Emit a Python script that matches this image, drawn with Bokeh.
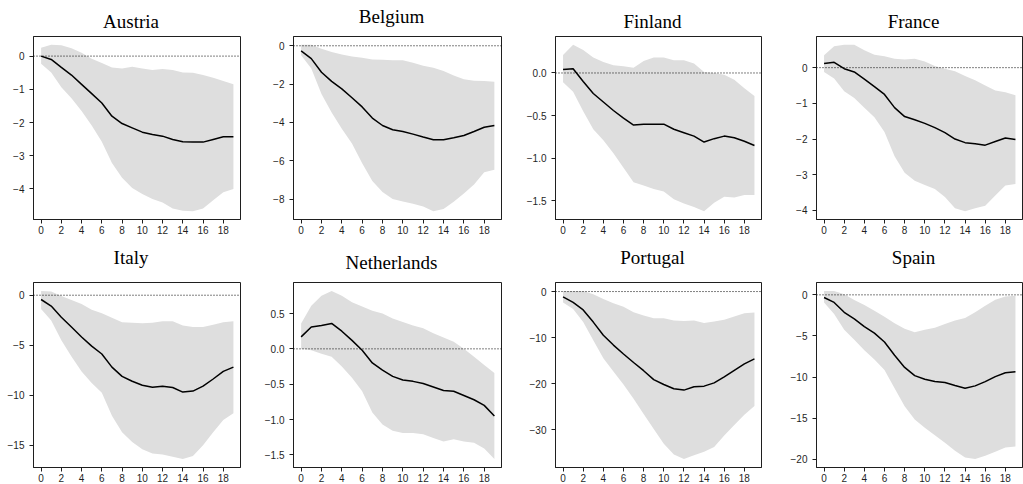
from bokeh.plotting import figure
from bokeh.layouts import column, row
from bokeh.models import Span, FixedTicker, Range1d, LinearAxis, Title
from bokeh.embed import file_html
from bokeh.resources import INLINE

# Impulse responses over a 20-period horizon: median path and error band
horizon = list(range(20))
x_ticks = [0, 2, 4, 6, 8, 10, 12, 14, 16, 18]

austria_mean = [0.0, -0.1, -0.34, -0.57, -0.85, -1.13, -1.41, -1.81, -2.03, -2.16,
                -2.29, -2.36, -2.41, -2.51, -2.58, -2.59, -2.59, -2.51, -2.43, -2.43]
austria_upper = [0.25, 0.34, 0.33, 0.24, 0.1, -0.08, -0.21, -0.34, -0.37, -0.32,
                 -0.37, -0.42, -0.39, -0.42, -0.49, -0.5, -0.57, -0.65, -0.75, -0.85]
austria_lower = [-0.23, -0.49, -0.94, -1.27, -1.65, -2.09, -2.58, -3.22, -3.66, -3.97,
                 -4.15, -4.3, -4.41, -4.59, -4.66, -4.67, -4.59, -4.34, -4.1, -4.0]

belgium_mean = [-0.27, -0.67, -1.38, -1.86, -2.25, -2.71, -3.19, -3.77, -4.16, -4.38,
                -4.47, -4.61, -4.76, -4.9, -4.9, -4.8, -4.68, -4.47, -4.25, -4.16]
belgium_upper = [0.05, 0.05, -0.15, -0.32, -0.46, -0.56, -0.63, -0.72, -0.73, -0.75,
                 -0.75, -0.89, -1.04, -1.14, -1.31, -1.55, -1.74, -1.82, -1.84, -1.88]
belgium_lower = [-0.49, -1.18, -2.51, -3.48, -4.33, -5.1, -6.13, -7.06, -7.63, -8.0,
                 -8.12, -8.24, -8.38, -8.63, -8.52, -8.14, -7.71, -7.24, -6.6, -6.47]

finland_mean = [0.04, 0.05, -0.1, -0.24, -0.34, -0.44, -0.53, -0.61, -0.6, -0.6,
                -0.6, -0.66, -0.7, -0.74, -0.81, -0.77, -0.74, -0.76, -0.8, -0.85]
finland_upper = [0.21, 0.33, 0.27, 0.18, 0.13, 0.09, 0.08, 0.06, 0.14, 0.18,
                 0.18, 0.15, 0.15, 0.11, 0.01, 0.0, -0.02, -0.08, -0.18, -0.27]
finland_lower = [-0.11, -0.22, -0.45, -0.66, -0.79, -0.94, -1.11, -1.28, -1.32, -1.36,
                 -1.39, -1.48, -1.53, -1.57, -1.62, -1.52, -1.45, -1.46, -1.43, -1.43]

france_mean = [0.12, 0.15, -0.03, -0.12, -0.32, -0.53, -0.75, -1.12, -1.37, -1.46,
               -1.56, -1.68, -1.82, -2.0, -2.1, -2.13, -2.17, -2.07, -1.97, -2.01]
france_upper = [0.35, 0.6, 0.64, 0.64, 0.49, 0.36, 0.32, 0.25, 0.23, 0.25,
                0.17, 0.05, -0.03, -0.1, -0.23, -0.35, -0.5, -0.64, -0.69, -0.77]
france_lower = [-0.12, -0.3, -0.66, -0.85, -1.12, -1.39, -1.8, -2.48, -2.94, -3.17,
                -3.29, -3.4, -3.62, -3.94, -4.02, -3.94, -3.87, -3.58, -3.3, -3.26]

italy_mean = [-0.43, -1.09, -2.2, -3.19, -4.18, -5.1, -5.89, -7.2, -8.13, -8.62,
              -9.01, -9.21, -9.11, -9.24, -9.7, -9.6, -9.11, -8.39, -7.63, -7.2]
italy_upper = [0.43, 0.36, -0.07, -0.49, -0.89, -1.45, -1.81, -2.27, -2.7, -2.76,
               -2.8, -2.76, -2.6, -2.6, -3.03, -3.19, -3.19, -2.96, -2.7, -2.6]
italy_lower = [-1.38, -2.53, -4.51, -6.15, -7.63, -8.78, -9.77, -12.07, -13.72, -14.7,
               -15.43, -15.86, -15.95, -16.18, -16.41, -16.09, -15.03, -13.72, -12.5, -11.81]

netherlands_mean = [0.17, 0.31, 0.33, 0.36, 0.25, 0.12, -0.02, -0.2, -0.3, -0.39,
                    -0.44, -0.46, -0.49, -0.54, -0.59, -0.6, -0.66, -0.72, -0.8, -0.95]
netherlands_upper = [0.36, 0.61, 0.75, 0.82, 0.75, 0.66, 0.6, 0.54, 0.5, 0.43,
                     0.38, 0.33, 0.29, 0.22, 0.16, 0.1, 0.0, -0.11, -0.23, -0.34]
netherlands_lower = [0.0, -0.02, -0.07, -0.11, -0.25, -0.41, -0.6, -0.9, -1.07, -1.16,
                     -1.19, -1.19, -1.21, -1.26, -1.31, -1.28, -1.31, -1.33, -1.41, -1.56]

portugal_mean = [-1.14, -2.36, -4.0, -6.64, -9.5, -11.64, -13.57, -15.43, -17.21, -19.14,
                 -20.21, -21.14, -21.43, -20.71, -20.57, -19.86, -18.57, -17.14, -15.71, -14.64]
portugal_upper = [0.14, 0.14, 0.14, -0.57, -1.64, -2.57, -3.29, -4.5, -5.21, -5.79,
                  -5.79, -6.29, -6.43, -6.29, -6.86, -6.5, -6.14, -5.43, -4.71, -4.57]
portugal_lower = [-2.36, -3.79, -6.64, -10.57, -14.5, -17.36, -20.21, -23.29, -26.64, -29.86,
                  -33.07, -35.43, -36.43, -35.57, -34.86, -33.79, -31.29, -29.0, -26.79, -24.86]

spain_mean = [-0.32, -0.92, -2.12, -2.93, -3.85, -4.65, -5.73, -7.33, -8.82, -9.82,
              -10.26, -10.54, -10.66, -11.02, -11.34, -11.06, -10.54, -9.94, -9.46, -9.34]
spain_upper = [0.48, 0.48, 0.08, -0.64, -1.24, -1.92, -2.65, -3.45, -4.13, -4.53,
               -4.25, -4.01, -3.53, -3.13, -2.81, -2.12, -1.32, -0.6, -0.2, -0.12]
spain_lower = [-0.92, -2.32, -4.25, -5.45, -6.73, -7.86, -9.14, -11.34, -13.55, -15.15,
               -16.15, -17.07, -17.96, -18.96, -19.76, -19.96, -19.56, -19.08, -18.56, -18.44]

countries = ["Austria", "Belgium", "Finland", "France",
             "Italy", "Netherlands", "Portugal", "Spain"]

y_ticks = {
    "Austria": [0, -1, -2, -3, -4],
    "Belgium": [0, -2, -4, -6, -8],
    "Finland": [0.0, -0.5, -1.0, -1.5],
    "France": [0, -1, -2, -3, -4],
    "Italy": [0, -5, -10, -15],
    "Netherlands": [0.5, 0.0, -0.5, -1.0, -1.5],
    "Portugal": [0, -10, -20, -30],
    "Spain": [0, -5, -10, -15, -20],
}
y_tick_labels = {
    "Austria": ["0", "\u22121", "\u22122", "\u22123", "\u22124"],
    "Belgium": ["0", "\u22122", "\u22124", "\u22126", "\u22128"],
    "Finland": ["0.0", "\u22120.5", "\u22121.0", "\u22121.5"],
    "France": ["0", "\u22121", "\u22122", "\u22123", "\u22124"],
    "Italy": ["0", "\u22125", "\u221210", "\u221215"],
    "Netherlands": ["0.5", "0.0", "\u22120.5", "\u22121.0", "\u22121.5"],
    "Portugal": ["0", "\u221210", "\u221220", "\u221230"],
    "Spain": ["0", "\u22125", "\u221210", "\u221215", "\u221220"],
}

series = {
    "Austria": (austria_mean, austria_lower, austria_upper),
    "Belgium": (belgium_mean, belgium_lower, belgium_upper),
    "Finland": (finland_mean, finland_lower, finland_upper),
    "France": (france_mean, france_lower, france_upper),
    "Italy": (italy_mean, italy_lower, italy_upper),
    "Netherlands": (netherlands_mean, netherlands_lower, netherlands_upper),
    "Portugal": (portugal_mean, portugal_lower, portugal_upper),
    "Spain": (spain_mean, spain_lower, spain_upper),
}

# panel geometry (pixels): column borders and widths, row borders and heights
col_width = [260, 260, 261, 242]
col_left = [33, 33, 35, 35]
col_right = [20, 19, 20, 1]
row_height = [242, 242]
row_top = [36, 40]
row_bottom = [23, 16]

# titles: baseline height above each frame, and face metrics
TITLE_FONT = "Liberation Serif"
TITLE_SIZE = 19
TITLE_DESCENT = 4
title_lift = {"Austria": 9.3, "Belgium": 14.3, "Finland": 9.3, "France": 9.3,
              "Italy": 18.7, "Netherlands": 13.7, "Portugal": 19.3, "Spain": 19.3}
glyph_w = {"A": 722, "B": 667, "F": 556, "I": 333, "N": 722, "P": 556, "S": 556,
           "a": 444, "c": 444, "d": 500, "e": 444, "g": 500, "h": 500, "i": 278,
           "l": 278, "m": 778, "n": 500, "o": 500, "p": 500, "r": 333, "s": 389,
           "t": 278, "u": 500, "y": 500}

INK = "#1f1f1f"
BAND = "#dedede"


def panel(name, r, c):
    mean, lower, upper = series[name]
    lo, hi = min(lower + mean), max(upper + mean)
    pad = 0.05 * (hi - lo)
    p = figure(width=col_width[c], height=row_height[r], title=None,
               x_range=Range1d(-0.75, 19.7), y_range=Range1d(lo - pad, hi + pad),
               output_backend="svg", toolbar_location=None,
               min_border_left=col_left[c], min_border_right=col_right[c],
               min_border_top=row_top[r], min_border_bottom=row_bottom[r])
    p.background_fill_color = "white"
    p.border_fill_color = "white"
    p.outline_line_color = INK
    p.outline_line_width = 1
    p.xgrid.visible = False
    p.ygrid.visible = False

    p.varea(x=horizon, y1=lower, y2=upper, fill_color=BAND, fill_alpha=1.0)
    p.add_layout(Span(location=0, dimension="width", line_color="black",
                      line_width=1, line_dash="1 2"))
    p.line(horizon, mean, line_color="black", line_width=1.5)

    for ax in (p.xaxis[0], p.yaxis[0]):
        ax.axis_line_color = INK
        ax.major_tick_line_color = INK
        ax.major_tick_out = 4
        ax.major_tick_in = 0
        ax.minor_tick_line_color = None
        ax.major_label_text_font = "Liberation Sans"
        ax.major_label_text_font_size = "10px"
        ax.major_label_text_color = INK
    p.xaxis[0].ticker = FixedTicker(ticks=x_ticks)
    p.xaxis[0].major_label_standoff = 2
    p.yaxis[0].ticker = FixedTicker(ticks=y_ticks[name])
    p.yaxis[0].major_label_overrides = dict(zip(y_ticks[name], y_tick_labels[name]))
    p.yaxis[0].major_label_standoff = 5

    # unlabelled top axis with invisible ticks: a gap between frame and title
    gap = LinearAxis(ticker=FixedTicker(ticks=x_ticks[:1]), axis_line_color=None,
                     major_tick_line_color=None, minor_tick_line_color=None,
                     major_tick_in=0, major_tick_out=round(title_lift[name] - TITLE_DESCENT),
                     minor_tick_out=0, major_label_standoff=0,
                     major_label_overrides={x_ticks[0]: ""},
                     major_label_text_font_size="0px")
    p.add_layout(gap, "above")

    frame_w = col_width[c] - col_left[c] - col_right[c]
    text_w = sum(glyph_w.get(ch, 500) for ch in name) / 1000 * TITLE_SIZE
    p.add_layout(Title(text=name, align="left", offset=frame_w / 2 - 6 - text_w / 2,
                       vertical_align="bottom", standoff=0,
                       text_font=TITLE_FONT, text_font_size=f"{TITLE_SIZE}px",
                       text_font_style="normal", text_color="black"), "above")
    return p


rows = []
for r in range(2):
    rows.append(row([panel(countries[4 * r + c], r, c) for c in range(4)], spacing=0))
layout = column(rows, spacing=0)

open("out.html", "w").write(file_html(layout, INLINE))
